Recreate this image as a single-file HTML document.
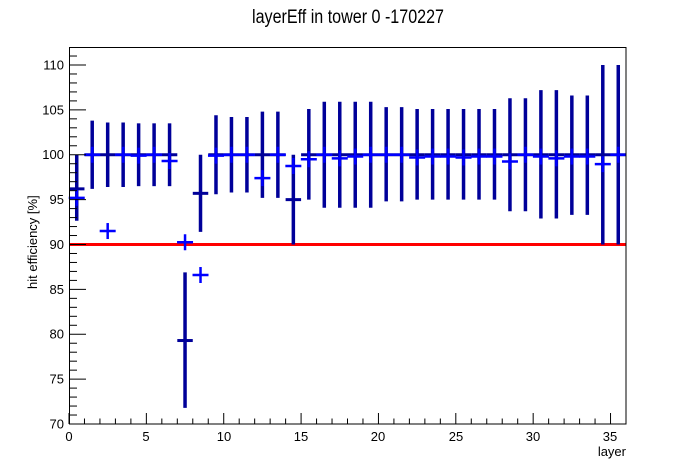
<!DOCTYPE html>
<html><head><meta charset="utf-8"><style>
html,body{margin:0;padding:0;background:#fff;}
svg{display:block;font-family:"Liberation Sans",Arial,sans-serif;}
</style></head><body>
<svg id="s" width="696" height="472" viewBox="0 0 696 472" xmlns="http://www.w3.org/2000/svg">
<rect width="696" height="472" fill="#fff"/>
<text x="348" y="23" font-size="19" text-anchor="middle" textLength="192" lengthAdjust="spacingAndGlyphs">layerEff in tower 0 -170227</text>
<g font-size="13" text-anchor="end">
<text x="64" y="428.5">70</text>
<text x="64" y="383.6">75</text>
<text x="64" y="338.7">80</text>
<text x="64" y="293.8">85</text>
<text x="64" y="248.9">90</text>
<text x="64" y="204">95</text>
<text x="64" y="159.2">100</text>
<text x="64" y="114.3">105</text>
<text x="64" y="69.4">110</text>
</g>
<g font-size="13" text-anchor="middle">
<text x="69" y="441">0</text>
<text x="146" y="441">5</text>
<text x="224" y="441">10</text>
<text x="301" y="441">15</text>
<text x="378" y="441">20</text>
<text x="456" y="441">25</text>
<text x="533" y="441">30</text>
<text x="610" y="441">35</text>
</g>
<text x="626" y="456" font-size="13" text-anchor="end">layer</text>
<text transform="translate(37,289) rotate(-90)" font-size="13">hit efficiency [%]</text>
<g id="g"></g>
</svg>
<script>
var g=document.getElementById('g'),ns='http://www.w3.org/2000/svg';
function L(x1,y1,x2,y2,c,w){var e=document.createElementNS(ns,'line');e.setAttribute('x1',x1);e.setAttribute('y1',y1);e.setAttribute('x2',x2);e.setAttribute('y2',y2);e.setAttribute('stroke',c);e.setAttribute('stroke-width',w);g.appendChild(e);}
var X0=69,XS=(626-69)/36,Y0=424,YS=8.975;
function X(v){return X0+v*XS;} function Y(v){return Y0-(v-70)*YS;}
// navy series: [val, lo, hi]
var d=[[96.2,92.65,100],[100,96.2,103.8],[100,96.4,103.6],[100,96.4,103.6],[100,96.5,103.5],[100,96.5,103.5],[100,96.5,103.5],
[79.3,71.8,86.9],[95.7,91.4,100],[100,95.6,104.4],[100,95.8,104.2],[100,95.8,104.2],[100,95.2,104.8],[100,95.2,104.8],[95,90,100],
[100,95,105.1],[100,94.1,105.9],[100,94.1,105.9],[100,94.1,105.9],[100,94.1,105.9],[100,94.8,105.3],[100,94.8,105.3],
[100,95,105.1],[100,95,105.1],[100,95,105.1],[100,95,105.1],[100,95,105.1],[100,95,105.1],
[100,93.7,106.3],[100,93.7,106.3],[100,92.9,107.2],[100,92.9,107.2],[100,93.3,106.6],[100,93.3,106.6],[100,90,110],[100,90,110]];
var b=[95.2,100,91.5,100,99.9,100,99.3,90.25,86.6,99.9,100,100,97.4,100,98.75,99.5,100,99.6,99.8,100,100,100,99.7,99.8,99.8,99.7,99.8,99.8,99.25,100,99.8,99.6,99.8,99.8,98.95,100];
// red line
L(X0,Y(90),626,Y(90),'#ff0000',3);
var N='#000099';
for(var i=0;i<36;i++){var c=X(i+0.5),v=d[i];
 L(c,Y(v[1]),c,Y(v[2]),N,3.5);
 L(X(i),Y(v[0]),X(i+1),Y(v[0]),N,3);}
for(var i=0;i<36;i++){var c=X(i+0.5),y=Y(b[i]);
 L(c-8,y,c+8,y,'#0000ff',2.5);L(c,y-8,c,y+8,'#0000ff',2.5);}
// frame
var f=document.createElementNS(ns,'rect');f.setAttribute('x',69.5);f.setAttribute('y',47.5);f.setAttribute('width',556.5);f.setAttribute('height',376.5);f.setAttribute('fill','none');f.setAttribute('stroke','#000');f.setAttribute('stroke-width',1);g.appendChild(f);
// y ticks
for(var v=70;v<=111;v++){var y=Y(v);L(69,y,69+(v%5==0?17:8),y,'#000',1);}
// x ticks
for(var v=0;v<=36;v++){var x=X(v);L(x,424,x,424-(v%5==0?11:5.5),'#000',1);}
</script>
</body></html>
